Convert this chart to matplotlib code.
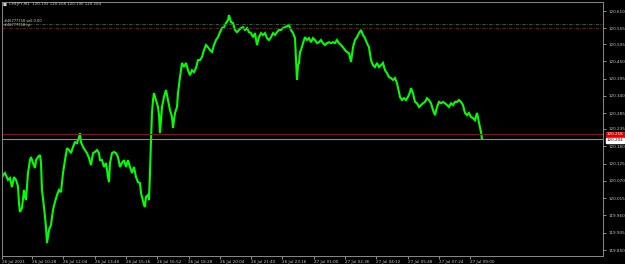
import matplotlib
matplotlib.use("Agg")
import matplotlib.pyplot as plt
import numpy as np

# bar index (3-minute bars from chart left edge) and close prices
bars = [0, 1, 3, 6, 8, 10, 12, 14, 16, 17, 18, 20, 22, 23, 24, 26, 28, 29, 31, 33, 34, 36, 38, 39,
        40, 42, 44, 45, 47, 49, 51, 53, 55, 57, 59, 61, 63, 65, 67, 69, 71, 73, 75, 77, 78, 79, 81, 83,
        85, 87, 89, 91, 93, 95, 97,
        98, 100, 102, 104, 106, 107, 108, 110, 112, 114, 116, 118, 120, 122, 124, 126, 128, 130, 132,
        134, 136, 138, 139, 140, 142, 143, 144, 146, 147, 148, 149, 150, 151, 152, 154, 156, 157, 158,
        159, 160, 162, 164, 166, 168, 170, 171, 173, 175, 176, 178, 180, 182, 184, 186, 188, 190, 192,
        194, 196,
        198, 200, 202, 204, 206, 208, 210, 212, 214, 216, 218, 220, 222, 224, 226, 227, 229, 231, 233,
        235, 237, 239, 241, 243, 245, 247, 249, 251, 253, 255, 257, 259, 261, 263, 265, 267, 269, 271,
        273, 275, 277, 279, 281, 283, 285, 287, 289, 291, 293, 295, 296, 297,
        298, 299, 301, 303, 305, 307, 309, 311, 313, 315, 317, 319, 321, 323, 325, 327, 329, 331, 333,
        335, 337, 339, 341, 343, 345, 347, 349, 351, 353, 355, 357, 359, 361, 363, 365, 367, 369, 371,
        373, 375, 377, 379, 381, 383, 385, 387, 389, 391, 393, 395, 397,
        398, 400, 402, 404, 406, 408, 409, 411, 413, 415, 417, 419, 421, 423, 425, 427, 429, 431, 433,
        435, 437, 439, 441, 443, 445, 447, 449, 451, 453, 455, 457, 459, 461, 463, 465, 467, 469, 471,
        473, 475, 476, 477, 478, 479, 480]

close = [120.079, 120.088, 120.095, 120.073, 120.079, 120.050, 120.082, 120.073, 120.053, 119.999,
         119.971, 119.984, 120.041, 120.019, 120.009, 120.095, 120.136, 120.146, 120.127, 120.111,
         120.136, 120.146, 120.152, 120.127, 120.041, 119.987, 119.923, 119.872, 119.914, 119.930,
         119.977, 120.003, 120.025, 120.041, 120.034, 120.095, 120.136, 120.174, 120.168, 120.158,
         120.178, 120.193, 120.190, 120.209, 120.222, 120.193, 120.178, 120.168, 120.158, 120.143,
         120.120, 120.158, 120.162, 120.168, 120.158,
         120.136, 120.136, 120.114, 120.127, 120.082, 120.066, 120.127, 120.158, 120.162, 120.158,
         120.146, 120.114, 120.127, 120.136, 120.114, 120.136, 120.114, 120.095, 120.114, 120.082,
         120.066, 120.063, 120.031, 120.019, 119.993, 119.987, 120.019, 120.025, 120.009, 120.095,
         120.200, 120.286, 120.327, 120.349, 120.327, 120.305, 120.279, 120.222, 120.263, 120.305,
         120.337, 120.359, 120.327, 120.295, 120.273, 120.238, 120.286, 120.305, 120.349, 120.400,
         120.445, 120.432, 120.445, 120.422, 120.406, 120.422, 120.416, 120.429, 120.454,
         120.454, 120.464, 120.486, 120.502, 120.495, 120.486, 120.480, 120.502, 120.518, 120.527,
         120.543, 120.556, 120.559, 120.572, 120.581, 120.597, 120.575, 120.572, 120.550, 120.543,
         120.550, 120.556, 120.559, 120.550, 120.556, 120.543, 120.540, 120.527, 120.540, 120.502,
         120.527, 120.540, 120.534, 120.540, 120.524, 120.518, 120.527, 120.540, 120.534, 120.543,
         120.550, 120.550, 120.556, 120.559, 120.562, 120.565, 120.550, 120.540, 120.524, 120.391,
         120.438, 120.445,
         120.480, 120.486, 120.508, 120.527, 120.518, 120.524, 120.511, 120.524, 120.518, 120.508,
         120.511, 120.518, 120.508, 120.502, 120.508, 120.511, 120.508, 120.511, 120.508, 120.518,
         120.508, 120.502, 120.495, 120.486, 120.480, 120.476, 120.448, 120.495, 120.518, 120.527,
         120.540, 120.550, 120.534, 120.524, 120.508, 120.495, 120.454, 120.438, 120.432, 120.445,
         120.432, 120.438, 120.445, 120.422, 120.413, 120.400, 120.397, 120.391, 120.397, 120.381,
         120.352,
         120.337, 120.327, 120.333, 120.327, 120.337, 120.352, 120.365, 120.349, 120.321, 120.317,
         120.305, 120.311, 120.317, 120.321, 120.333, 120.327, 120.317, 120.295, 120.279, 120.305,
         120.321, 120.317, 120.321, 120.317, 120.311, 120.305, 120.317, 120.311, 120.321, 120.321,
         120.327, 120.321, 120.311, 120.286, 120.279, 120.286, 120.273, 120.270, 120.263, 120.286,
         120.273, 120.254, 120.241, 120.225, 120.204]

y_ticks = [120.610, 120.555, 120.505, 120.450, 120.395, 120.340, 120.285, 120.235,
           120.180, 120.125, 120.070, 120.015, 119.960, 119.905, 119.850]
x_labels = ["26 Jul 2021", "26 Jul 10:28", "26 Jul 12:04", "26 Jul 13:40", "26 Jul 15:16",
            "26 Jul 16:52", "26 Jul 18:28", "26 Jul 20:04", "26 Jul 21:40", "26 Jul 23:16",
            "27 Jul 01:00", "27 Jul 02:36", "27 Jul 04:12", "27 Jul 05:48", "27 Jul 07:24",
            "27 Jul 09:00"]

title_text = "CHFJPY,M1  120.192 120.208 120.190 120.204"
order_price = 120.218
bid_price = 120.204
order_lines = [("#46777758 sell 0.00", 120.569, "#1f7f1f"),
               ("#46777758 tp", 120.556, "#a01010")]

fig = plt.figure(figsize=(6.25, 2.64), dpi=100)
fig.patch.set_facecolor("black")
ax = fig.add_axes([2 / 625, 1 - 256 / 264, 601 / 625, 254 / 264])
ax.set_facecolor("black")

ax.plot(bars, close, color="#00ff00", lw=1.5, solid_joinstyle="miter")

ax.set_xlim(0, 601)
ax.set_ylim(119.831, 120.639)

# price level lines
ax.axhline(order_price, color="#b00000", lw=0.8)
ax.axhline(bid_price, color="#8a8a8a", lw=0.8)
for txt, lvl, col in order_lines:
    ax.axhline(lvl, color=col, lw=0.6, dashes=(4, 1.5, 1, 1.5))
    ax.text(1.5, lvl + 0.002, txt, color="#d0d0d0", fontsize=2.6, va="bottom", ha="left")

# axes styling
for s in ax.spines.values():
    s.set_color("#8a8a8a")
    s.set_linewidth(0.7)
ax.yaxis.tick_right()
ax.set_yticks(y_ticks)
ax.set_yticklabels([f"{v:.3f}" for v in y_ticks])
xt = [0] + [30 + k * 31.3 for k in range(len(x_labels) - 1)]
ax.set_xticks(xt)
ax.set_xticklabels(x_labels, ha="left")
ax.tick_params(axis="both", colors="#c8c8c8", labelsize=3.0, length=2, width=0.5, pad=1)
ax.tick_params(axis="y", pad=2)

# right-side price tags
ax.annotate(f"{order_price:.3f}", xy=(1.0, order_price), xycoords=("axes fraction", "data"),
            xytext=(2.5, 0), textcoords="offset points", fontsize=3.0, color="white",
            va="center", ha="left",
            bbox=dict(boxstyle="square,pad=0.15", fc="#e00000", ec="#e00000"))
ax.annotate(f"{bid_price:.3f}", xy=(1.0, bid_price), xycoords=("axes fraction", "data"),
            xytext=(2.5, -1.2), textcoords="offset points", fontsize=3.0, color="black",
            va="center", ha="left",
            bbox=dict(boxstyle="square,pad=0.15", fc="white", ec="white"))

# title
fig.text(3 / 625, 1 - 4.5 / 264, "\u25a0", color="#d0d0d0", fontsize=3, va="center", ha="left")
fig.text(9 / 625, 1 - 4.5 / 264, title_text, color="#d0d0d0", fontsize=2.8, va="center", ha="left")

fig.savefig("out.png", dpi=100, facecolor="black")
